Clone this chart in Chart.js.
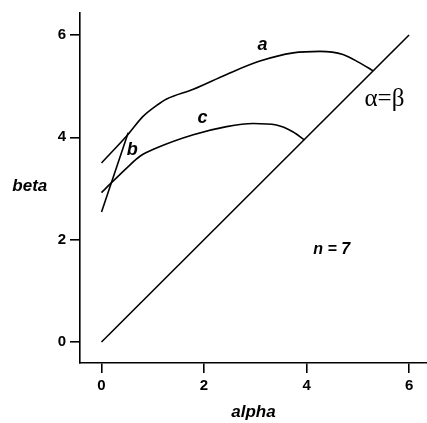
<!DOCTYPE html>
<html>
<head>
<meta charset="utf-8">
<script src="https://cdn.jsdelivr.net/npm/chart.js@4"></script>
<style>
  html, body { margin: 0; padding: 0; background: #fff; }
  #wrap { width: 427px; height: 423px; }
</style>
</head>
<body>
<div id="wrap"><canvas id="myChart"></canvas></div>
<script>
// curve a
const alphaA = [0, 0.52, 0.8, 1.07, 1.27, 1.79, 2.44, 3.09, 3.74, 4.26, 4.71, 5.03, 5.3];
const betaA  = [3.5, 4.06, 4.4, 4.62, 4.75, 4.94, 5.23, 5.49, 5.65, 5.68, 5.62, 5.46, 5.3];
// curve b
const alphaB = [0, 0.52];
const betaB  = [2.54, 4.09];
// curve c
const alphaC = [0, 0.16, 0.49, 0.75, 1.07, 1.79, 2.44, 2.96, 3.41, 3.73, 3.96];
const betaC  = [2.92, 3.08, 3.4, 3.63, 3.79, 4.05, 4.21, 4.27, 4.24, 4.11, 3.95];
// alpha = beta
const alphaD = [0, 6];
const betaD  = [0, 6];

const xTicks = [0, 2, 4, 6];
const yTicks = [0, 2, 4, 6];

// text labels in data units
const notes = [
	{ text: "a", x: 3.14, y: 5.81, font: "italic bold 18px 'Liberation Sans'" },
	{ text: "c", x: 1.97, y: 4.37, font: "italic bold 18px 'Liberation Sans'" },
	{ text: "b", x: 0.6, y: 3.75, font: "italic bold 18px 'Liberation Sans'" },
	{ text: "α=β", x: 5.52, y: 4.75, font: "25px 'Liberation Serif'" },
	{ text: "n = 7", x: 4.49, y: 1.81, font: "italic bold 16px 'Liberation Sans'" },
	{ text: "beta", x: -1.4, y: 3.04, font: "italic bold 17px 'Liberation Sans'" },
];

function pts(xs, ys) {
	return xs.map((x, i) => ({ x: x, y: ys[i] }));
}

function serie(xs, ys, smooth) {
	return {
		data: pts(xs, ys),
		borderColor: "#000",
		borderWidth: 1.6,
		pointRadius: 0,
		showLine: true,
		fill: false,
		tension: smooth ? 0.4 : 0,
		cubicInterpolationMode: smooth ? "monotone" : "default",
	};
}

const notesPlugin = {
	id: "notes",
	afterDraw(chart) {
		const c = chart.ctx;
		const sx = chart.scales.x;
		const sy = chart.scales.y;
		c.save();
		c.fillStyle = "#000";
		c.textAlign = "center";
		c.textBaseline = "middle";
		notes.forEach((n) => {
			c.font = n.font;
			c.fillText(n.text, sx.getPixelForValue(n.x), sy.getPixelForValue(n.y));
		});
		c.restore();
	},
};

const ctx = document.getElementById("myChart");

let grafico = new Chart(ctx, {
	type: "scatter",
	data: {
		datasets: [
			serie(alphaA, betaA, true),
			serie(alphaB, betaB, false),
			serie(alphaC, betaC, true),
			serie(alphaD, betaD, false),
		],
	},
	options: {
		responsive: true,
		maintainAspectRatio: false,
		animation: false,
		layout: { padding: { top: 8, right: 0, bottom: 0, left: 0 } },
		plugins: {
			legend: { display: false },
			tooltip: { enabled: false },
		},
		scales: {
			x: {
				type: "linear",
				min: -0.42,
				max: 6.35,
				afterBuildTicks: (s) => { s.ticks = xTicks.map((v) => ({ value: v })); },
				afterFit: (s) => { s.height = 60; },
				border: { display: true, color: "#000", width: 1.6 },
				grid: { drawOnChartArea: false, drawTicks: true, tickLength: 10, color: "#000", lineWidth: 1.6 },
				ticks: {
					color: "#000",
					padding: 4,
					font: { family: "'Liberation Sans'", weight: "bold", size: 15 },
				},
				title: {
					display: true,
					text: "alpha",
					color: "#000",
					padding: { top: 2, bottom: 0 },
					font: { family: "'Liberation Sans'", style: "italic", weight: "bold", size: 17 },
				},
			},
			y: {
				type: "linear",
				min: -0.41,
				max: 6.43,
				afterBuildTicks: (s) => { s.ticks = yTicks.map((v) => ({ value: v })); },
				afterFit: (s) => { s.width = 80; },
				border: { display: true, color: "#000", width: 1.6 },
				grid: { drawOnChartArea: false, drawTicks: true, tickLength: 10, color: "#000", lineWidth: 1.6 },
				ticks: {
					color: "#000",
					padding: 4,
					font: { family: "'Liberation Sans'", weight: "bold", size: 15 },
				},
			},
		},
	},
	plugins: [notesPlugin],
});
</script>
</body>
</html>
